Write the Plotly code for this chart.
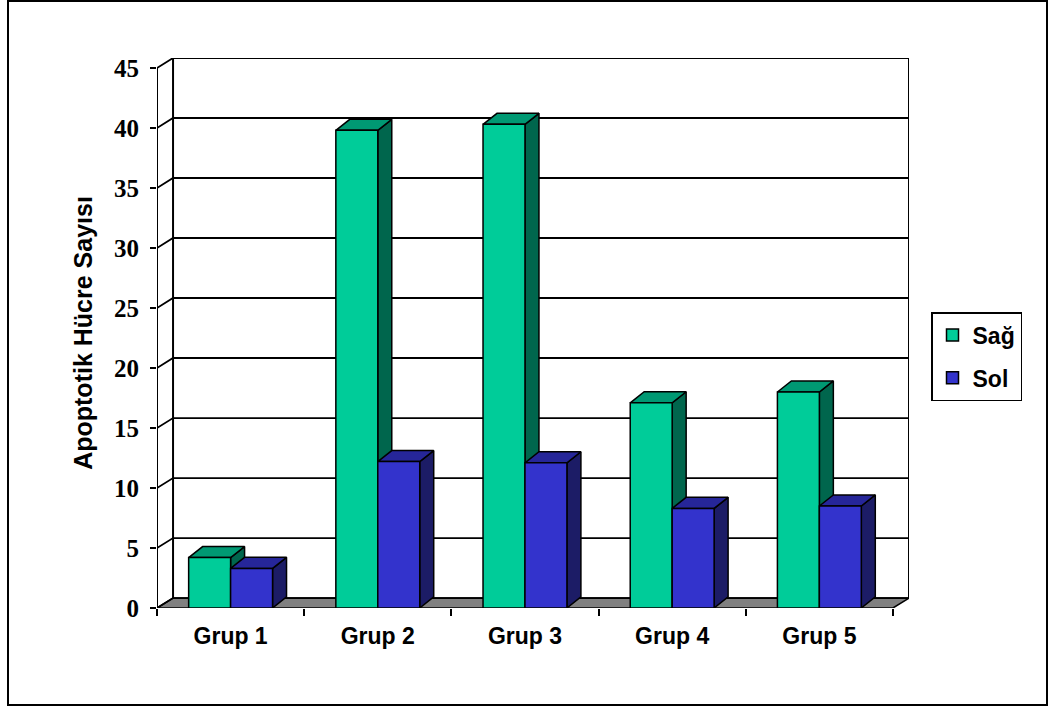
import plotly.graph_objects as go

# ---- data -------------------------------------------------------------
groups = ["Grup 1", "Grup 2", "Grup 3", "Grup 4", "Grup 5"]
sag = [4.2, 39.8, 40.3, 17.1, 18.0]
sol = [3.3, 12.2, 12.1, 8.3, 8.5]
y_ticks = [0, 5, 10, 15, 20, 25, 30, 35, 40, 45]

# ---- styling / geometry ----------------------------------------------
W, H = 1049, 706
PLOT_L, PLOT_R, PLOT_T, PLOT_B = 157, 909, 58, 608   # plot area in px

Y_MAX = 45
WALL_DX, WALL_DY = 0.109, 0.83     # depth of back wall (axis units)
BAR_W = 0.285                      # width of one bar (category units)
BAR_DX, BAR_DY = 0.095, 0.92       # depth of each bar (axis units)

SANS = "Liberation Sans, Arial"
SERIF = "Liberation Serif, Times New Roman"

SERIES = [
    dict(name="Sağ", values=sag, offset=-BAR_W,
         front="#00CC99", top="#009973", side="#00664D"),
    dict(name="Sol", values=sol, offset=0.0,
         front="#3333CC", top="#262699", side="#1C1C66"),
]

x_pos = list(range(len(groups)))
x_lo, x_hi = -0.5, len(groups) - 0.5

fig = go.Figure()


def poly_trace(polys, fill, width=1.5):
    xs, ys = [], []
    for p in polys:
        for (px, py) in p:
            xs.append(px)
            ys.append(py)
        xs.append(p[0][0])
        ys.append(p[0][1])
        xs.append(None)
        ys.append(None)
    return go.Scatter(x=xs, y=ys, mode="lines", fill="toself",
                      fillcolor=fill, line=dict(color="black", width=width),
                      hoverinfo="skip", showlegend=False)


# floor
fig.add_trace(poly_trace([[(x_lo, 0), (x_hi, 0),
                           (x_hi + WALL_DX, WALL_DY), (x_lo + WALL_DX, WALL_DY)]],
                         "#808080"))

# back-wall gridlines with their diagonal link to the front axis
gx, gy = [], []
for v in y_ticks:
    gx += [x_lo, x_lo + WALL_DX, x_hi + WALL_DX, None]
    gy += [v, v + WALL_DY, v + WALL_DY, None]
fig.add_trace(go.Scatter(x=gx, y=gy, mode="lines",
                         line=dict(color="black", width=1.8),
                         hoverinfo="skip", showlegend=False))

# back-wall edges and front value axis
fig.add_trace(go.Scatter(
    x=[x_lo + WALL_DX, x_lo + WALL_DX, None, x_hi + WALL_DX, x_hi + WALL_DX, None, x_lo, x_lo],
    y=[WALL_DY, Y_MAX + WALL_DY, None, WALL_DY, Y_MAX + WALL_DY, None, 0, Y_MAX],
    mode="lines", line=dict(color="black", width=2),
    hoverinfo="skip", showlegend=False))

# 3-D looking columns: side, top and front face of every bar
for s in SERIES:
    sides, tops, fronts = [], [], []
    for xc, v in zip(x_pos, s["values"]):
        x0 = xc + s["offset"]
        x1 = x0 + BAR_W
        sides.append([(x1, 0), (x1, v), (x1 + BAR_DX, v + BAR_DY), (x1 + BAR_DX, BAR_DY)])
        tops.append([(x0, v), (x1, v), (x1 + BAR_DX, v + BAR_DY), (x0 + BAR_DX, v + BAR_DY)])
        fronts.append([(x0, 0), (x1, 0), (x1, v), (x0, v)])
    fig.add_trace(poly_trace(sides, s["side"]))
    fig.add_trace(poly_trace(tops, s["top"]))
    fig.add_trace(poly_trace(fronts, s["front"]))

# legend entries
for i, s in enumerate(SERIES):
    fig.add_trace(go.Scatter(
        x=[None], y=[None], mode="markers", name=s["name"],
        legendgroup=s["name"],
        marker=dict(symbol="square", size=12, color=s["front"],
                    line=dict(color="black", width=1.5))))

# outer frame of the chart (px -> paper coordinates)
def px_to_paper_x(px):
    return (px - PLOT_L) / (PLOT_R - PLOT_L)


def px_to_paper_y(py):
    return (PLOT_B - py) / (PLOT_B - PLOT_T)


fig.add_shape(type="rect", xref="paper", yref="paper",
              x0=px_to_paper_x(8), x1=px_to_paper_x(1047),
              y0=px_to_paper_y(705), y1=px_to_paper_y(1),
              line=dict(color="black", width=2), fillcolor="rgba(0,0,0,0)",
              layer="below")

fig.update_layout(
    width=W, height=H,
    margin=dict(l=PLOT_L, r=W - PLOT_R, t=PLOT_T, b=H - PLOT_B, autoexpand=False),
    paper_bgcolor="white", plot_bgcolor="white",
    showlegend=True,
    legend=dict(
        xref="container", yref="container",
        x=931 / W, y=1 - 312 / H, xanchor="left", yanchor="top",
        bordercolor="black", borderwidth=1.5, bgcolor="white",
        font=dict(family=SANS, size=23, color="black", weight="bold"),
        tracegroupgap=10, itemwidth=30,
    ),
    xaxis=dict(
        range=[x_lo, x_hi + WALL_DX],
        tickmode="array", tickvals=x_pos, ticktext=groups,
        ticks="", showgrid=False, zeroline=False, showline=False,
        tickfont=dict(family=SANS, size=23, color="black", weight="bold"),
        ticklabelstandoff=12,
        minor=dict(tickmode="array",
                   tickvals=[x - 0.5 for x in x_pos] + [x_hi],
                   ticks="outside", ticklen=7, tickwidth=1.5, tickcolor="black"),
        fixedrange=True,
    ),
    yaxis=dict(
        range=[0, Y_MAX + WALL_DY],
        tickmode="array", tickvals=y_ticks,
        ticks="outside", ticklen=6, tickwidth=2, tickcolor="black",
        showgrid=False, zeroline=False, showline=False,
        tickfont=dict(family=SERIF, size=25, color="black", weight="bold"),
        ticklabelstandoff=6,
        title=dict(text="Apoptotik Hücre Sayısı", standoff=14,
                   font=dict(family=SANS, size=25, color="black", weight="bold")),
        fixedrange=True,
    ),
)

fig.write_html("out.html")
